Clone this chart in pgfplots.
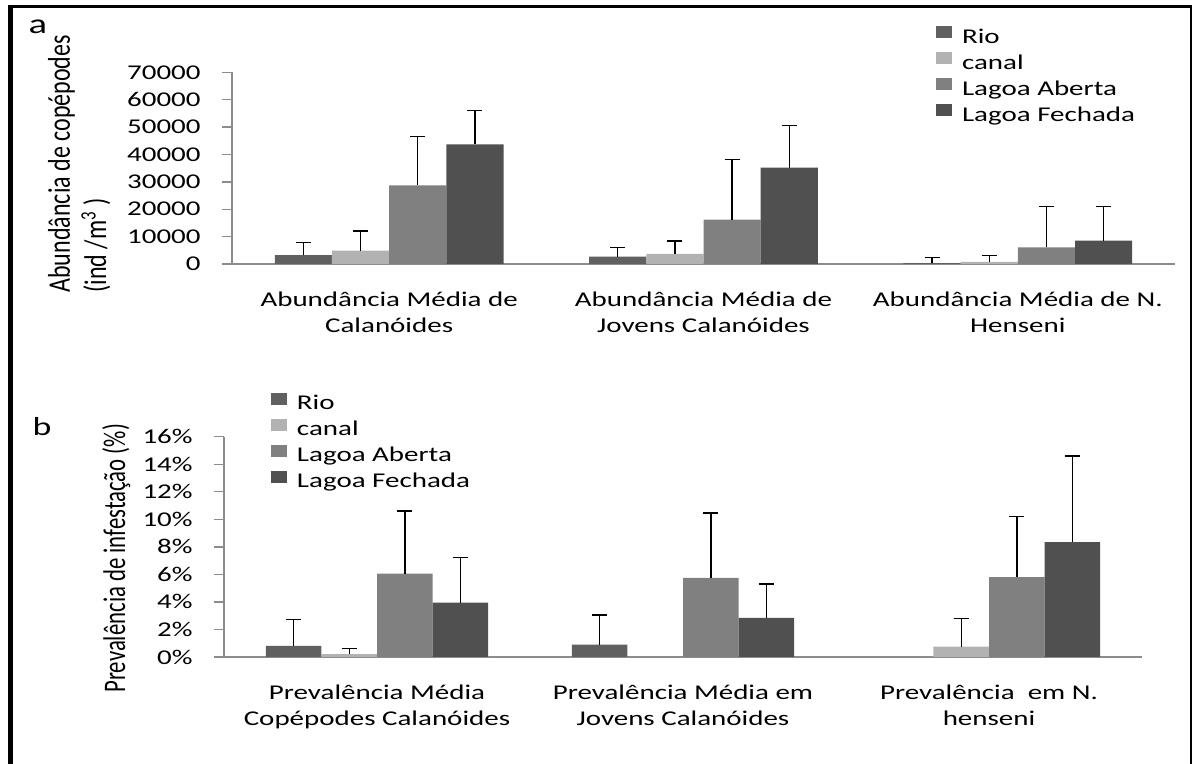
\documentclass[border=0pt]{standalone}
\usepackage{pgfplots}
\pgfplotsset{compat=1.18}
\usepackage{pgfplotstable}
\usepackage{fontspec}
\setmainfont{Carlito}[FakeStretch=1.38]
\newfontfamily\rotfont{Carlito}[FakeStretch=0.725]
\newfontfamily\rotfontwide{Carlito}[FakeStretch=0.765]

\definecolor{rio}{HTML}{606060}
\definecolor{canal}{HTML}{B2B2B2}
\definecolor{aberta}{HTML}{808080}
\definecolor{fechada}{HTML}{505050}
\definecolor{axisgray}{HTML}{8C8C8C}

% mean abundance (ind/m^3) and its standard deviation
\pgfplotstableread{
cat rio  rioE canal canalE aberta abertaE fechada fechadaE
0   3200 4700 4900  7150   28700  17800   43700   12400
1   2700 3250 3700  4700   16200  22000   35200   15300
2   300  2000 800   2250   6100   14800   8500    12400
}\abund

% mean prevalence of infestation (%) and its standard deviation
\pgfplotstableread{
cat rio  rioE canal canalE aberta abertaE fechada fechadaE
0   0.8  1.94 0.2   0.43   6.05   4.55    3.95    3.28
1   0.9  2.15 nan   nan    5.75   4.70    2.85    2.45
2   nan  nan  0.75  2.05   5.80   4.42    8.35    6.25
}\preval

\pgfplotsset{
  ybar legend/.style={legend image code/.code={\fill[##1,draw=none] (0pt,0pt) rectangle (8pt,6pt);}},
  sd/.style={error bars/.cd, y dir=plus, y explicit,
    error bar style={draw=black, line width=0.7pt},
    error mark=|, error mark options={draw=black, line width=0.7pt, mark size=3.75pt}},
  panel/.style={
    scale only axis,
    clip=false,
    ybar=0pt,
    xmin=-0.5, xmax=2.5, ymin=0,
    axis lines*=left,
    axis line style={axisgray, line width=0.7pt},
    xtick={0,1,2},
    xtick style={draw=none},
    minor xtick={-0.5,0.5,1.5,2.5},
    minor x tick style={axisgray, line width=0.7pt},
    ytick style={axisgray, line width=0.7pt},
    major tick length=5pt, minor tick length=3.5pt,
    tick align=outside,
    tick label style={font=\fontsize{10.5}{13}\selectfont},
    x tick label style={align=center, yshift=-5.5pt},
    y tick label style={anchor=east, inner sep=0pt, xshift=-10.5pt},
    /pgf/number format/assume math mode=true,
    /pgf/number format/1000 sep={},
    scaled y ticks=false,
    legend cell align=left,
    legend style={draw=none, fill=none, inner sep=0pt, outer sep=0pt,
      anchor=north west, row sep=0pt,
      nodes={inner sep=0pt, text height=9pt, text depth=4pt,
        font=\fontsize{10.5}{13}\selectfont},
      /tikz/every odd column/.append style={column sep=5pt}},
  },
}

\begin{document}
\begin{tikzpicture}
\path[use as bounding box] (0pt,0pt) rectangle (596.5pt,382pt);
% outer frame
\draw[line width=2.5pt] (5.25pt,-2pt) -- (5.25pt,379.5pt);
\draw[line width=1.5pt] (4pt,378.75pt) -- (596pt,378.75pt);
\draw[line width=1pt] (595.5pt,-2pt) -- (595.5pt,379.5pt);

\node[font=\fontsize{14}{16}\selectfont] at (19pt,368.5pt) {a};
\node[font=\fontsize{13}{16}\selectfont] at (21pt,168.5pt) {b};

% panel a: abundance
\begin{axis}[panel,
  at={(116pt,250pt)}, anchor=south west,
  width=471.5pt, height=95.85pt,
  bar width=28.6pt,
  ymax=70000, ytick={0,10000,...,70000},
  yticklabel={\pgfmathprintnumber{\tick}},
  xticklabels={{Abundância Média de\\Calanóides},{Abundância Média de\\Jovens Calanóides},{Abundância Média de N.\\Henseni}},
  legend style={at={(axis description cs:0.7466,1.245)}},
]
\addplot[fill=rio, draw=none, sd] table[x=cat, y=rio, y error=rioE]{\abund};
\addplot[fill=canal, draw=none, sd] table[x=cat, y=canal, y error=canalE]{\abund};
\addplot[fill=aberta, draw=none, sd] table[x=cat, y=aberta, y error=abertaE]{\abund};
\addplot[fill=fechada, draw=none, sd] table[x=cat, y=fechada, y error=fechadaE]{\abund};
\legend{Rio,canal,Lagoa Aberta,Lagoa Fechada}
\node[rotate=90, anchor=base west, inner sep=0pt, font=\rotfontwide\fontsize{15.7}{18}\selectfont]
  at (axis description cs:-0.1718,-0.1513) {Abundância de copépodes};
\node[rotate=90, anchor=base west, inner sep=0pt, font=\rotfontwide\fontsize{15.7}{18}\selectfont]
  at (axis description cs:-0.1336,-0.1513) {(ind /m\textsuperscript{3} )};
\end{axis}

% panel b: prevalence
\begin{axis}[panel,
  at={(112pt,53.5pt)}, anchor=south west,
  width=459pt, height=110.15pt,
  bar width=27.8pt,
  ymax=16, ytick={0,2,...,16},
  yticklabel={\pgfmathprintnumber{\tick}\%},
  xticklabels={{Prevalência Média\\Copépodes Calanóides},{Prevalência Média em\\Jovens Calanóides},{Prevalência\ \ em N.\\henseni}},
  legend style={at={(axis description cs:0.0512,1.205)}},
]
\addplot[fill=rio, draw=none, sd] table[x=cat, y=rio, y error=rioE]{\preval};
\addplot[fill=canal, draw=none, sd] table[x=cat, y=canal, y error=canalE]{\preval};
\addplot[fill=aberta, draw=none, sd] table[x=cat, y=aberta, y error=abertaE]{\preval};
\addplot[fill=fechada, draw=none, sd] table[x=cat, y=fechada, y error=fechadaE]{\preval};
\legend{Rio,canal,Lagoa Aberta,Lagoa Fechada}
\node[rotate=90, anchor=base west, inner sep=0pt, font=\rotfont\fontsize{15.7}{18}\selectfont]
  at (axis description cs:-0.1078,-0.1634) {Prevalência de infestação (\%)};
\end{axis}
\end{tikzpicture}
\end{document}
